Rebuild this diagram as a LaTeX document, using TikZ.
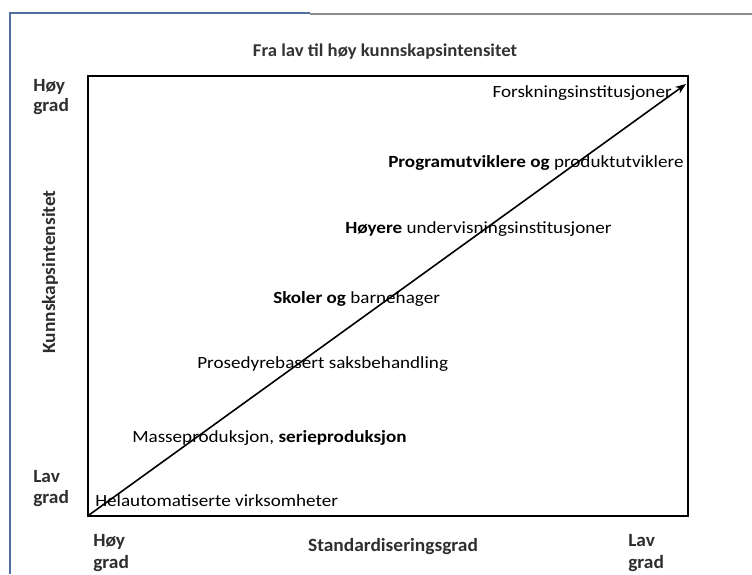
\documentclass[tikz,border=0pt]{standalone}
\usepackage{fontspec}
\setmainfont{Carlito}
\newfontfamily\lblfont{Carlito}[FakeStretch=1.12]
\newfontfamily\axfont{Carlito}[FakeStretch=1.04]
\usetikzlibrary{arrows.meta}
\begin{document}
\begin{tikzpicture}[x=0.75pt,y=-0.75pt,
  lbl/.style={inner sep=0pt,font=\lblfont\fontsize{12.8}{15}\selectfont,text=black},
  ax/.style={inner sep=0pt,font=\axfont\fontsize{14}{16}\selectfont\bfseries,text=black!82},
  ttl/.style={inner sep=0pt,font=\axfont\fontsize{13.5}{16}\selectfont\bfseries,text=black!80}]
\useasboundingbox (0,0) rectangle (752,574);
% outer frame
\draw[color={rgb,255:red,80;green,110;blue,160},line width=1pt] (10,574) -- (10,13) -- (310,13);
\draw[color=black!45,line width=1.3pt] (310,14) -- (752,14);
% inner box
\coordinate (bl) at (88,516);
\coordinate (tr) at (688,76);
\draw[line width=1.3pt] (bl) rectangle (tr);
\coordinate (as) at (89,515);
\coordinate (ae) at (686,84);
\draw[line width=1.2pt,-{Stealth[length=8pt,width=6pt]}] (as) -- (ae);
% title
\node[ttl,anchor=base] (title) at (385,57) {Fra lav til høy kunnskapsintensitet};
% y axis
\node[ax,anchor=base west] (hoy1) at (33,92) {Høy};
\node[ax,anchor=base west] (grad1) at (33,112) {grad};
\node[ax,anchor=base west] (lav1) at (33,482) {Lav};
\node[ax,anchor=base west] (grad2) at (33,503) {grad};
\node[ax,rotate=90] (yl) at (50,272) {Kunnskapsintensitet};
% x axis
\node[ax,anchor=base west] (hoy2) at (93,546) {Høy};
\node[ax,anchor=base west] (grad3) at (93,568) {grad};
\node[ax,anchor=base] (xl) at (393,551) {Standardiseringsgrad};
\node[ax,anchor=base west] (lav2) at (628,546) {Lav};
\node[ax,anchor=base west] (grad4) at (628,568) {grad};
% labels
\node[lbl,anchor=base east] (l1) at (672,98) {Forskningsinstitusjoner};
\node[lbl,anchor=base west] (l2) at (388,167) {\textbf{Programutviklere og} produktutviklere};
\node[lbl,anchor=base west] (l3) at (345,233) {\textbf{Høyere} undervisningsinstitusjoner};
\node[lbl,anchor=base west] (l4) at (273,303) {\textbf{Skoler og} barnehager};
\node[lbl,anchor=base west] (l5) at (197,368) {Prosedyrebasert saksbehandling};
\node[lbl,anchor=base west] (l6) at (132,442) {Masseproduksjon, \textbf{serieproduksjon}};
\node[lbl,anchor=base west] (l7) at (95,506) {Helautomatiserte virksomheter};
\end{tikzpicture}
\end{document}
